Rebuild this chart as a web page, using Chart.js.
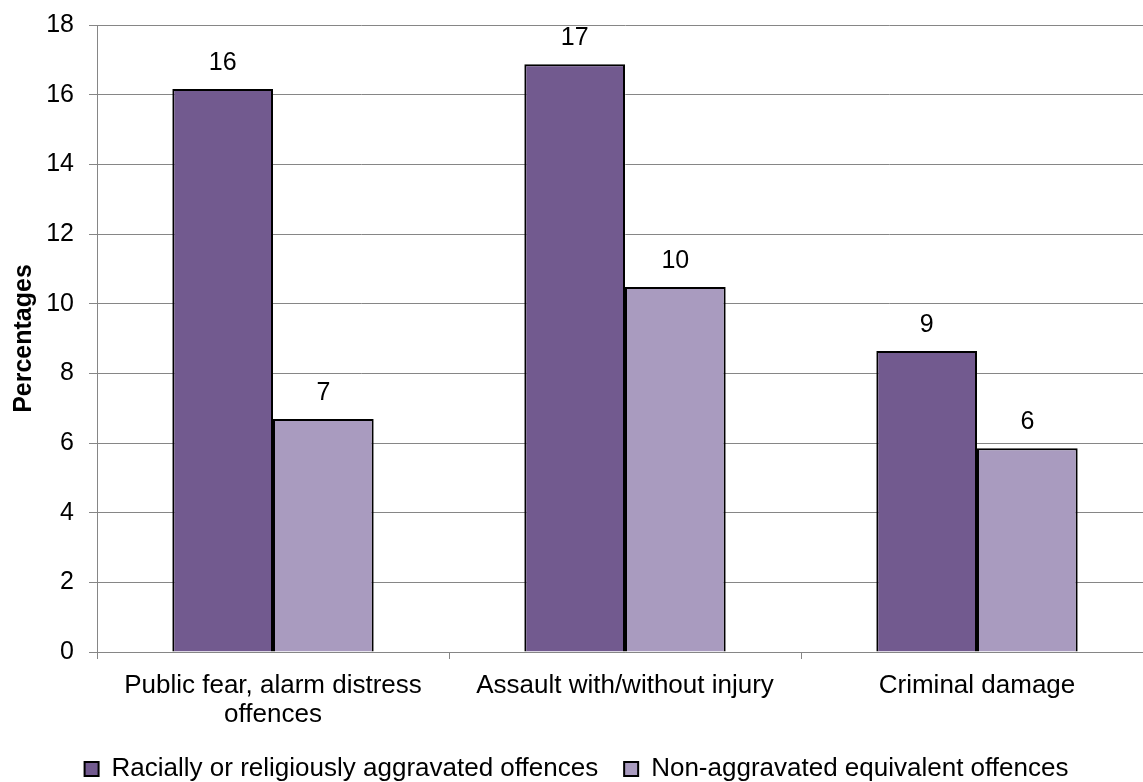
<!DOCTYPE html>
<html lang="en">
<head>
  <meta charset="UTF-8">
  <title>Aggravated vs non-aggravated offences</title>
  <script src="https://cdn.jsdelivr.net/npm/chart.js"></script>
  <style>
    html, body { margin: 0; padding: 0; background: #fff; overflow: hidden; }
    #wrap { width: 1160px; height: 792px; position: relative; }
  </style>
</head>
<body>
  <div id="wrap"><canvas id="offenceChart"></canvas></div>

  <script>
    // data
    const categories = [['Public fear, alarm distress', 'offences'], 'Assault with/without injury', 'Criminal damage'];
    const seriesNames = ['Racially or religiously aggravated offences', 'Non-aggravated equivalent offences'];
    const aggravated = [16.16, 16.87, 8.64];
    const nonAggravated = [6.69, 10.48, 5.85];
    const yTicks = { min: 0, max: 18, step: 2 };

    const FONT = "'Liberation Sans', Arial, sans-serif";
    const GRID = '#868686';

    // value labels above each bar (rounded, like the original)
    const barLabels = {
      id: 'barLabels',
      afterDatasetsDraw(chart) {
        const ctx = chart.ctx;
        ctx.save();
        ctx.font = '25px ' + FONT;
        ctx.fillStyle = '#000';
        ctx.textAlign = 'center';
        ctx.textBaseline = 'middle';
        chart.data.datasets.forEach((ds, i) => {
          chart.getDatasetMeta(i).data.forEach((bar, j) => {
            ctx.fillText(Math.round(ds.data[j]), bar.x, bar.y - 26);
          });
        });
        ctx.restore();
      }
    };

    new Chart(document.getElementById('offenceChart'), {
      type: 'bar',
      data: {
        labels: categories,
        datasets: [
          {
            label: seriesNames[0],
            data: aggravated,
            backgroundColor: '#725a8f',
            borderColor: '#000',
            borderWidth: 2
          },
          {
            label: seriesNames[1],
            data: nonAggravated,
            backgroundColor: '#a99bbf',
            borderColor: '#000',
            borderWidth: 2
          }
        ]
      },
      options: {
        responsive: true,
        maintainAspectRatio: false,
        animation: false,
        layout: { padding: { left: 0, right: 7, top: 25, bottom: 0 } },
        datasets: { bar: { categoryPercentage: 0.572, barPercentage: 1.0 } },
        scales: {
          x: {
            afterFit: (s) => { s.height = 78; },
            grid: { drawOnChartArea: false, drawTicks: true, tickLength: 7, color: GRID, offset: true },
            border: { color: GRID, width: 1 },
            ticks: { color: '#000', font: { family: FONT, size: 26, lineHeight: 1.12 }, padding: 12, maxRotation: 0, autoSkip: false }
          },
          y: {
            min: yTicks.min,
            max: yTicks.max,
            afterFit: (s) => { s.width = 97; s.paddingTop = 0; s.paddingBottom = 0; },
            grid: { color: GRID, lineWidth: 1, tickLength: 8 },
            border: { color: GRID, width: 1 },
            ticks: { stepSize: yTicks.step, color: '#000', font: { family: FONT, size: 25 }, padding: 15 },
            title: {
              display: true,
              text: 'Percentages',
              color: '#000',
              font: { family: FONT, size: 25, weight: 'bold', lineHeight: 1.2 },
              padding: { top: 9, bottom: 0 }
            }
          }
        },
        plugins: {
          legend: {
            position: 'bottom',
            labels: {
              color: '#000',
              font: { family: FONT, size: 26 },
              boxWidth: 14,
              boxHeight: 14,
              padding: 26
            }
          },
          tooltip: { enabled: false }
        }
      },
      plugins: [barLabels]
    });
  </script>
</body>
</html>
